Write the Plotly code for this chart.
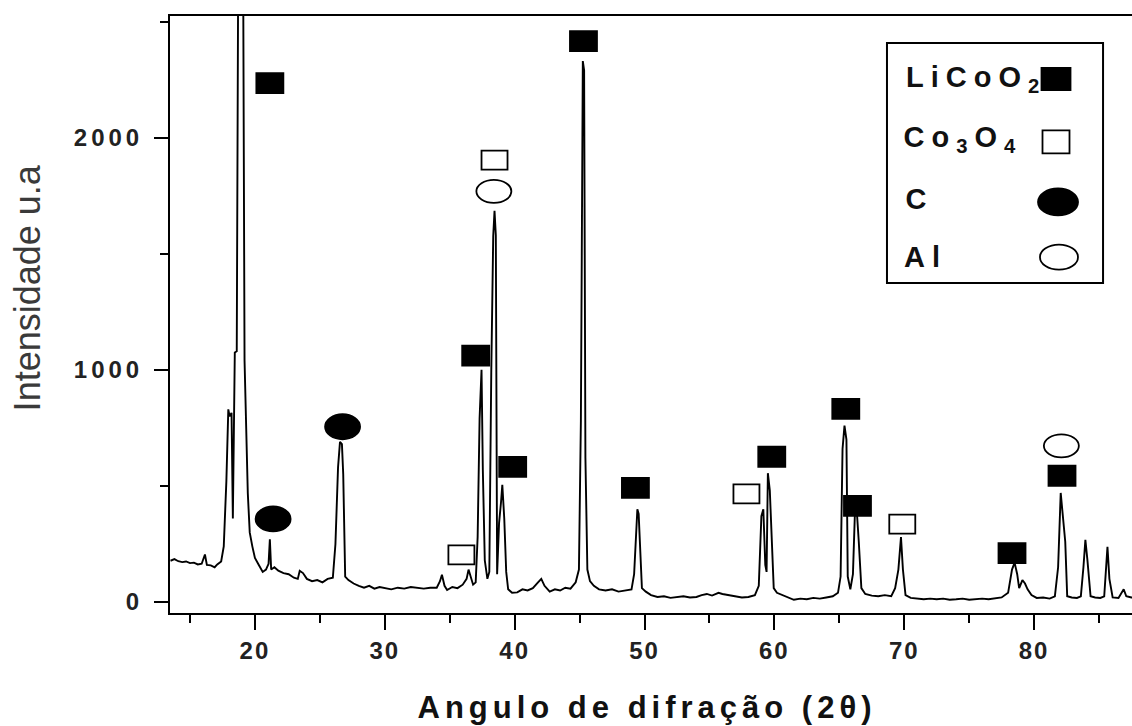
import plotly.graph_objects as go

# XRD pattern: diffraction angle (2θ, degrees) and intensity (a.u.)
two_theta = [
    13.5, 13.8, 14.1, 14.4, 14.7, 15.0, 15.3, 15.6, 15.9, 16.15, 16.3, 16.6, 16.9, 17.1, 17.4,
    17.6, 17.8, 17.95, 18.05, 18.2, 18.3, 18.45, 18.6, 18.75, 19.0, 19.2, 19.45, 19.6, 19.8,
    20.0, 20.3, 20.6, 20.85, 21.05, 21.15, 21.25, 21.5, 21.8, 22.2, 22.6, 23.0, 23.3, 23.45,
    23.7, 24.0, 24.4, 24.8, 25.2, 25.6, 26.0, 26.2, 26.4, 26.55, 26.7, 26.8, 26.95, 27.2,
    27.6, 28.0, 28.4, 28.8, 29.2, 29.6, 30.0, 30.5, 31.0, 31.5, 32.0, 32.5, 33.0, 33.5, 34.0,
    34.25, 34.4, 34.6, 34.8, 35.2, 35.6, 36.0, 36.3, 36.45, 36.6, 36.8, 37.0, 37.15, 37.3,
    37.45, 37.55, 37.7, 37.9, 38.05, 38.2, 38.35, 38.45, 38.55, 38.65, 38.8, 38.95, 39.05,
    39.2, 39.35, 39.5, 39.8, 40.2, 40.6, 41.0, 41.4, 41.8, 42.05, 42.3, 42.7, 43.1, 43.5,
    43.9, 44.3, 44.7, 44.95, 45.1, 45.25, 45.35, 45.45, 45.6, 45.8, 46.1, 46.5, 47.0, 47.5,
    48.0, 48.5, 49.0, 49.2, 49.35, 49.45, 49.55, 49.65, 49.8, 50.1, 50.5, 51.0, 51.5, 52.0,
    52.5, 53.0, 53.5, 54.0, 54.4, 54.8, 55.2, 55.7, 56.0, 56.5, 57.0, 57.5, 58.0, 58.5, 58.8,
    59.0, 59.15, 59.3, 59.4, 59.5, 59.65, 59.8, 59.95, 60.2, 60.6, 61.0, 61.5, 62.0, 62.5,
    63.0, 63.5, 64.0, 64.5, 64.9, 65.1, 65.25, 65.4, 65.55, 65.65, 65.85, 66.05, 66.2, 66.35,
    66.5, 66.7, 67.0, 67.5, 68.0, 68.5, 69.0, 69.3, 69.55, 69.75, 69.9, 70.1, 70.5, 71.0,
    71.5, 72.0, 72.5, 73.0, 73.5, 74.0, 74.5, 75.0, 75.5, 76.0, 76.5, 77.0, 77.5, 78.0, 78.3,
    78.5, 78.7, 78.85, 79.1, 79.3, 79.5, 79.8, 80.2, 80.7, 81.2, 81.6, 81.85, 82.05, 82.2,
    82.4, 82.55, 82.9, 83.3, 83.6, 83.8, 83.95, 84.1, 84.35, 84.7, 85.1, 85.4, 85.55, 85.65,
    85.8, 86.05, 86.5, 86.9, 87.1, 87.5, 88.0,
]
intensity = [
    178, 185, 176, 172, 175, 168, 170, 162, 165, 205, 160, 158, 150, 162, 175,
    240, 520, 830, 800, 815, 360, 1075, 1080, 3300, 4200, 1040, 470, 300, 240,
    190, 160, 130, 140, 165, 270, 140, 150, 135, 125, 120, 105, 100, 135,
    125, 100, 90, 95, 85, 100, 105, 250, 580, 690, 680, 550, 110, 95,
    80, 70, 62, 70, 58, 65, 62, 55, 62, 58, 65, 60, 58, 62, 62,
    90, 118, 70, 52, 65, 60, 75, 100, 140, 110, 75, 85, 280, 790,
    1000, 570, 180, 100, 130, 990, 1575, 1685, 1580, 120, 340, 430, 505,
    360, 130, 55, 40, 42, 55, 50, 60, 85, 100, 70, 45, 55, 50,
    62, 58, 85, 140, 780, 2330, 2290, 620, 140, 90, 70, 55, 50, 55,
    45, 50, 55, 120, 325, 400, 380, 225, 60, 45, 30, 22, 25, 18,
    20, 25, 20, 22, 30, 35, 28, 40, 35, 30, 25, 20, 22, 30, 70,
    370, 400, 160, 130, 555, 480, 270, 60, 40, 30, 20, 10, 15, 12,
    18, 15, 20, 25, 40, 110, 660, 760, 700, 110, 55, 120, 380, 390,
    260, 60, 35, 28, 25, 30, 25, 60, 140, 280, 140, 30, 18, 15,
    12, 15, 12, 15, 10, 12, 15, 10, 12, 15, 12, 15, 20, 40, 140,
    170, 120, 60, 95, 80, 55, 30, 18, 20, 15, 25, 150, 470, 370,
    260, 25, 20, 18, 25, 150, 268, 185, 25, 20, 18, 25, 150, 238,
    100, 20, 18, 55, 25, 20, 18,
]

# Phase markers placed above the identified reflections
licoo2_x = [21.15, 37.0, 39.85, 45.3, 49.3, 59.8, 65.5, 66.4, 78.3, 82.15]
licoo2_y = [2235, 1061, 582, 2416, 492, 626, 832, 414, 211, 544]
co3o4_x = [35.9, 38.45, 57.85, 69.85]
co3o4_y = [203, 1903, 466, 336]
carbon_x = [21.4, 26.75]
carbon_y = [358, 755]
al_x = [38.4, 82.1]
al_y = [1769, 673]

x_ticks = [20, 30, 40, 50, 60, 70, 80]
y_ticks = [0, 1000, 2000]

legend_labels = ["LiCoO<sub>2</sub>", "Co<sub>3</sub>O<sub>4</sub>", "C", "Al"]

INK = "#111111"
FONT = "Liberation Sans, Arial, sans-serif"

fig = go.Figure()
fig.add_trace(go.Scatter(
    x=two_theta, y=intensity, mode="lines",
    line=dict(color="black", width=1.9), showlegend=False, hoverinfo="skip",
))

SYMBOLS = {
    "licoo2": ("rect", "black"),
    "co3o4": ("rect", "white"),
    "carbon": ("circle", "black"),
    "al": ("circle", "white"),
}
DATA_SIZE = {"licoo2": (13.5, 10), "co3o4": (13, 9.5), "carbon": (17.5, 12.5), "al": (17.5, 11.5)}
KEY_SIZE = {"licoo2": (14.5, 11), "co3o4": (13.5, 11.5), "carbon": (20, 13.5), "al": (19, 12.5)}


def marker_shape(kind, x, y, half, xref="x", yref="y"):
    """Pixel-sized phase symbol anchored at a data (or paper) position."""
    typ, fill = SYMBOLS[kind]
    hw, hh = half
    return dict(
        type=typ, xref=xref, yref=yref, xsizemode="pixel", ysizemode="pixel",
        xanchor=x, yanchor=y, x0=-hw, x1=hw, y0=-hh, y1=hh,
        fillcolor=fill, line=dict(color="black", width=1.8), layer="above",
    )


shapes = []
for xs, ys, kind in [(licoo2_x, licoo2_y, "licoo2"), (co3o4_x, co3o4_y, "co3o4"),
                     (carbon_x, carbon_y, "carbon"), (al_x, al_y, "al")]:
    for xv, yv in zip(xs, ys):
        shapes.append(marker_shape(kind, xv, yv, DATA_SIZE[kind]))

# Legend frame and symbols (paper coordinates)
shapes.append(dict(type="rect", xref="paper", yref="paper",
                   x0=0.7453, x1=0.9699, y0=0.5528, y1=0.9548,
                   line=dict(color="black", width=2), fillcolor="rgba(0,0,0,0)"))
key_rows_y = [0.8945, 0.7890, 0.6885, 0.5960]
key_sym_x = [0.9210, 0.9210, 0.9231, 0.9241]
key_text_x = [0.8378, 0.8245, 0.7796, 0.7849]
key_text_y = [0.8945, 0.7940, 0.6935, 0.5965]
for kind, lx, ly in zip(["licoo2", "co3o4", "carbon", "al"], key_sym_x, key_rows_y):
    shapes.append(marker_shape(kind, lx, ly, KEY_SIZE[kind], xref="paper", yref="paper"))

annotations = []
for label, lx, ly in zip(legend_labels, key_text_x, key_text_y):
    annotations.append(dict(
        xref="paper", yref="paper", x=lx, y=ly, xanchor="center", yanchor="middle",
        text=label, showarrow=False,
        font=dict(family=FONT, size=29, color=INK, weight="bold"),
    ))

annotations.append(dict(
    xref="paper", yref="paper", x=0.4960, y=-0.158, xanchor="center", yanchor="middle",
    text="Angulo de difração (2θ)", showarrow=False,
    font=dict(family=FONT, size=31, color=INK, weight="bold"),
))
annotations.append(dict(
    xref="paper", yref="paper", x=-0.1485, y=0.544, xanchor="center", yanchor="middle",
    text="Intensidade u.a", showarrow=False, textangle=-90,
    font=dict(family=FONT, size=36, color="#3a3a3a"),
))

fig.update_layout(
    width=1132, height=726,
    margin=dict(l=170, r=0, t=16, b=113),
    paper_bgcolor="white", plot_bgcolor="white",
    shapes=shapes, annotations=annotations, showlegend=False,
    xaxis=dict(
        range=[13.46, 87.54], showgrid=False, zeroline=False,
        showline=True, linecolor="black", linewidth=2, mirror=True,
        ticks="outside", ticklen=15, tickwidth=2, tickcolor="black",
        tickvals=x_ticks, ticktext=[str(v) for v in x_ticks],
        tickfont=dict(family=FONT, size=24, color="#222222", weight="bold"),
        minor=dict(tickvals=[15, 25, 35, 45, 55, 65, 75, 85], ticks="outside",
                   ticklen=8, tickwidth=2, tickcolor="black", showgrid=False),
    ),
    yaxis=dict(
        range=[-47, 2524], showgrid=False, zeroline=False,
        showline=True, linecolor="black", linewidth=2, mirror=False,
        ticks="outside", ticklen=14, tickwidth=2, tickcolor="black",
        tickvals=y_ticks, ticktext=[str(v) for v in y_ticks],
        tickfont=dict(family=FONT, size=24, color="#222222", weight="bold"),
        ticklabelstandoff=6,
        minor=dict(tickvals=[500, 1500, 2500], ticks="outside",
                   ticklen=8, tickwidth=2, tickcolor="black", showgrid=False),
    ),
)

# Letter spacing for tick labels, key entries and the angle label,
# reapplied after every redraw
spacing_js = """
var gd = document.getElementById('{plot_id}');
function applySpacing() {
  gd.querySelectorAll('.xtick text').forEach(function (t) {
    t.setAttribute('letter-spacing', '2px');
  });
  gd.querySelectorAll('.ytick text').forEach(function (t) {
    t.setAttribute('letter-spacing', '4px');
  });
  var ann = gd.querySelectorAll('.annotation-text');
  ann.forEach(function (t, i) {
    if (i < 4) t.setAttribute('letter-spacing', '7px');
    else if (i === 4) t.setAttribute('letter-spacing', '5px');
  });
}
applySpacing();
gd.on('plotly_afterplot', applySpacing);
"""

fig.write_html("out.html", post_script=spacing_js)
